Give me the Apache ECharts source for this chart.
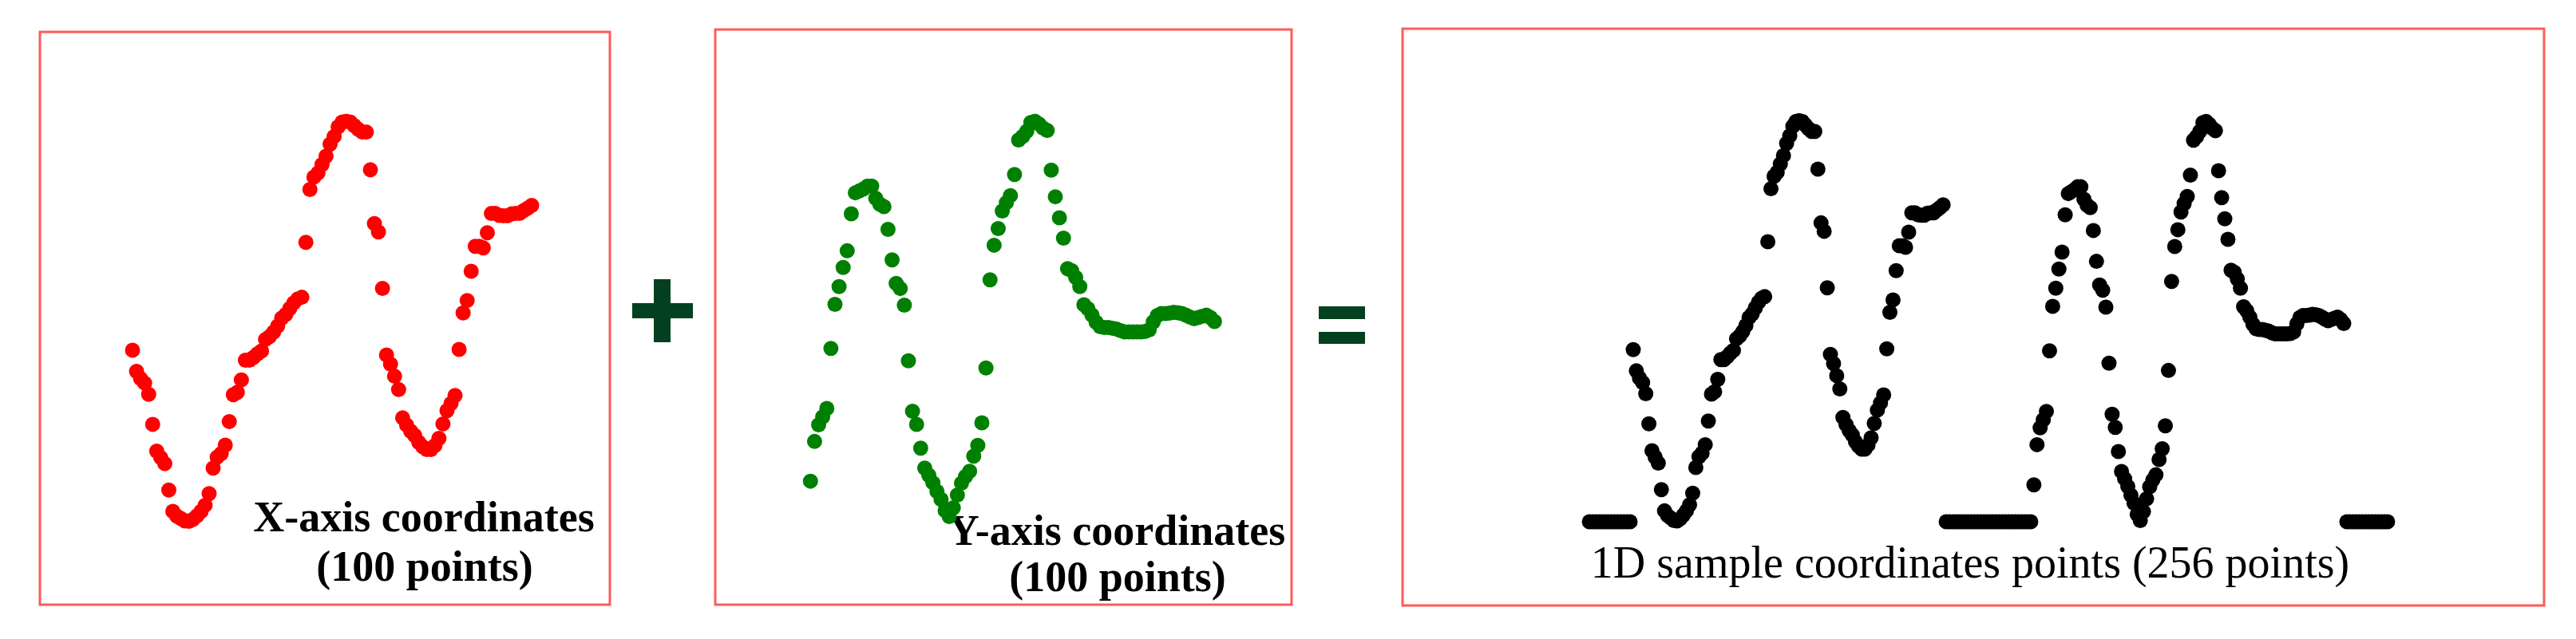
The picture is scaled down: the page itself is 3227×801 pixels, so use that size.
<!DOCTYPE html>
<html>
<head>
<meta charset="utf-8">
<script src="https://cdn.jsdelivr.net/npm/echarts@6/dist/echarts.min.js"></script>
<style>
  html, body { margin: 0; padding: 0; background: #fff; }
  #main { width: 3227px; height: 801px; }
</style>
</head>
<body>
<div id="main"></div>
<script>
// normalised X coordinates of the sample (100 points)
var xCoords = [
  0.429, 0.376, 0.358, 0.347, 0.319, 0.244, 0.177, 0.161, 0.146, 0.080,
  0.027, 0.015, 0.009, 0.003, 0.002, 0.007, 0.016, 0.027, 0.042, 0.071,
  0.135, 0.162, 0.171, 0.192, 0.251, 0.318, 0.324, 0.355, 0.404, 0.404,
  0.411, 0.420, 0.427, 0.456, 0.463, 0.474, 0.489, 0.509, 0.518, 0.533,
  0.547, 0.557, 0.561, 0.698, 0.830, 0.861, 0.871, 0.892, 0.913, 0.943,
  0.962, 0.986, 0.998, 1.000, 0.998, 0.989, 0.980, 0.973, 0.973, 0.879,
  0.745, 0.724, 0.583, 0.417, 0.394, 0.364, 0.331, 0.260, 0.242, 0.227,
  0.216, 0.199, 0.188, 0.181, 0.181, 0.191, 0.209, 0.245, 0.278, 0.296,
  0.316, 0.431, 0.522, 0.553, 0.626, 0.688, 0.688, 0.684, 0.722, 0.770,
  0.770, 0.765, 0.764, 0.764, 0.769, 0.770, 0.770, 0.777, 0.783, 0.790
];

// normalised Y coordinates (100 points)
var yCoords = [
  0.092, 0.192, 0.234, 0.254, 0.275, 0.426, 0.537, 0.582, 0.630, 0.672,
  0.765, 0.818, 0.823, 0.828, 0.835, 0.835, 0.804, 0.789, 0.783, 0.726,
  0.649, 0.590, 0.577, 0.535, 0.395, 0.268, 0.235, 0.175, 0.125, 0.107,
  0.088, 0.066, 0.046, 0.018, 0.003, 0.025, 0.057, 0.087, 0.104, 0.117,
  0.155, 0.182, 0.239, 0.377, 0.599, 0.686, 0.728, 0.772, 0.793, 0.811,
  0.864, 0.951, 0.960, 0.973, 0.995, 0.998, 0.991, 0.981, 0.975, 0.875,
  0.808, 0.755, 0.704, 0.627, 0.622, 0.605, 0.582, 0.536, 0.526, 0.510,
  0.492, 0.481, 0.479, 0.479, 0.477, 0.475, 0.471, 0.468, 0.468, 0.468,
  0.468, 0.468, 0.469, 0.473, 0.493, 0.509, 0.514, 0.514, 0.515, 0.517,
  0.516, 0.514, 0.510, 0.505, 0.501, 0.504, 0.507, 0.510, 0.504, 0.494
];

// zero padding in the 1D sample (14 + 28 + 14 = 56 points)
var padLeft  = [0, 0, 0, 0, 0, 0, 0, 0, 0, 0, 0, 0, 0, 0];
var padMid   = [0, 0, 0, 0, 0, 0, 0, 0, 0, 0, 0, 0, 0, 0,
                0, 0, 0, 0, 0, 0, 0, 0, 0, 0, 0, 0, 0, 0];
var padRight = [0, 0, 0, 0, 0, 0, 0, 0, 0, 0, 0, 0, 0, 0];

var labels = [
  ['X-axis coordinates', '(100 points)'],
  ['Y-axis coordinates', '(100 points)'],
  ['1D sample coordinates points (256 points)']
];

var sample = padLeft.concat(xCoords, padMid, yCoords, padRight); // 256

function indexed(arr) {
  return arr.map(function (v, i) { return [i, v]; });
}

var myChart = echarts.init(document.getElementById('main'), null, { renderer: 'canvas' });

var frame = { show: true, borderColor: '#ff5b5b', borderWidth: 3, backgroundColor: 'transparent' };
var serif = '"Liberation Serif", "Times New Roman", serif';
var darkGreen = '#03401f';

function hiddenAxis(idx, min, max) {
  return { type: 'value', gridIndex: idx, min: min, max: max, show: false, splitLine: { show: false } };
}

option = {
  backgroundColor: '#ffffff',
  animation: false,
  grid: [
    Object.assign({ left: 50, top: 40, width: 714, height: 718 }, frame),
    Object.assign({ left: 896, top: 37, width: 722, height: 721 }, frame),
    Object.assign({ left: 1757, top: 36, width: 1430, height: 723 }, frame)
  ],
  xAxis: [
    hiddenAxis(0, -22.97, 118.4),
    hiddenAxis(1, -23.34, 117.9),
    hiddenAxis(2, -59.7, 305)
  ],
  yAxis: [
    hiddenAxis(0, -0.206, 1.223),
    hiddenAxis(1, -0.219, 1.229),
    hiddenAxis(2, -0.209, 1.229)
  ],
  series: [
    {
      name: 'X', type: 'scatter', xAxisIndex: 0, yAxisIndex: 0,
      symbolSize: 19, itemStyle: { color: '#ff0000', opacity: 1 },
      data: indexed(xCoords)
    },
    {
      name: 'Y', type: 'scatter', xAxisIndex: 1, yAxisIndex: 1,
      symbolSize: 19, itemStyle: { color: '#008000', opacity: 1 },
      data: indexed(yCoords)
    },
    {
      name: '1D', type: 'scatter', xAxisIndex: 2, yAxisIndex: 2,
      symbolSize: 19, itemStyle: { color: '#000000', opacity: 1 },
      data: indexed(sample)
    }
  ],
  graphic: [
    // plus sign
    { type: 'rect', shape: { x: 819, y: 350, width: 21, height: 79 }, style: { fill: darkGreen } },
    { type: 'rect', shape: { x: 792, y: 380, width: 76, height: 19 }, style: { fill: darkGreen } },
    // equals sign
    { type: 'rect', shape: { x: 1652, y: 384, width: 58, height: 16 }, style: { fill: darkGreen } },
    { type: 'rect', shape: { x: 1652, y: 416, width: 58, height: 15 }, style: { fill: darkGreen } },
    // captions
    { type: 'text', x: 531, y: 652, style: { text: labels[0][0], font: 'bold 54px ' + serif, fill: '#000', textAlign: 'center', textVerticalAlign: 'middle' } },
    { type: 'text', x: 532, y: 714, style: { text: labels[0][1], font: 'bold 54px ' + serif, fill: '#000', textAlign: 'center', textVerticalAlign: 'middle' } },
    { type: 'text', x: 1399, y: 669, style: { text: labels[1][0], font: 'bold 54px ' + serif, fill: '#000', textAlign: 'center', textVerticalAlign: 'middle' } },
    { type: 'text', x: 1400, y: 727, style: { text: labels[1][1], font: 'bold 54px ' + serif, fill: '#000', textAlign: 'center', textVerticalAlign: 'middle' } },
    { type: 'text', x: 2468, y: 709, style: { text: labels[2][0], font: '56px ' + serif, fill: '#000', textAlign: 'center', textVerticalAlign: 'middle' } }
  ]
};

myChart.setOption(option, true);
</script>
</body>
</html>
